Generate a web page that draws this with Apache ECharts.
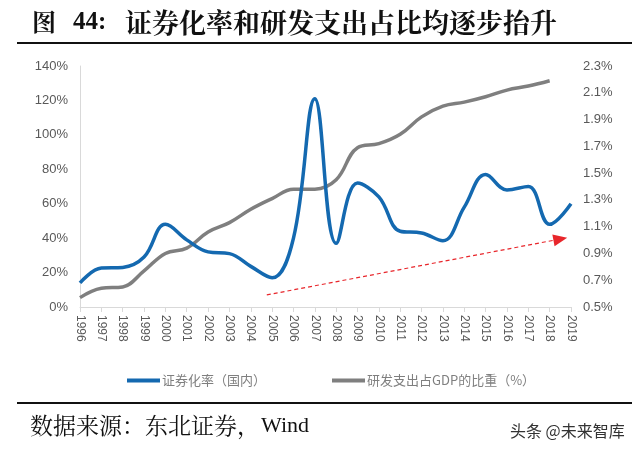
<!DOCTYPE html>
<html><head><meta charset="utf-8">
<script src="https://cdn.jsdelivr.net/npm/echarts@6/dist/echarts.min.js"></script>
<style>html,body{margin:0;padding:0;background:#fff;}#c{width:640px;height:455px;}</style>
</head><body><div id="c"></div>
<script>
const years = ['1996','1997','1998','1999','2000','2001','2002','2003','2004','2005','2006','2007','2008','2009','2010','2011','2012','2013','2014','2015','2016','2017','2018','2019'];
const securitization = [14,22.6,23,29,48,39,32,31,23.6,17,40,121,37,72,64,44,43,38.5,58,77,68,70,48,60];
const rdShare = [0.57,0.64,0.65,0.77,0.90,0.94,1.06,1.13,1.23,1.31,1.38,1.38,1.45,1.69,1.72,1.79,1.92,2.00,2.03,2.07,2.12,2.15,2.19,null];
const leftTicks = [0,20,40,60,80,100,120,140];
const rightTicks = [0.5,0.7,0.9,1.1,1.3,1.5,1.7,1.9,2.1,2.3];
// trend arrow in (year-position, left-axis %) units
const trendArrow = [[8.75,7],[22.5,39.5]];

const chart = echarts.init(document.getElementById('c'));
const axisLabelColor = '#595959';
const cjkSerif = '"Noto Serif CJK SC", "Noto Sans CJK SC", serif';
chart.setOption({
  animation:false,
  textStyle:{fontFamily:'Liberation Sans, Arial, sans-serif'},
  graphic:[
    {type:'text',left:32,top:10,style:{text:'图',font:'bold 24px '+cjkSerif,fill:'#111'}},
    {type:'text',left:73,top:10,style:{text:'44:',font:'bold 25px "Liberation Serif", serif',fill:'#111'}},
    {type:'text',left:125,top:9,style:{text:'证券化率和研发支出占比均逐步抬升',font:'bold 27px '+cjkSerif,fill:'#111'}},
    {type:'line',shape:{x1:17,y1:43,x2:632,y2:43},style:{stroke:'#111',lineWidth:2}},
    {type:'line',shape:{x1:17,y1:403,x2:632,y2:403},style:{stroke:'#111',lineWidth:2}},
    {type:'text',left:30,top:414,style:{text:'数据来源：东北证券，',font:'23px '+cjkSerif,fill:'#111'}},
    {type:'text',left:261,top:415,style:{text:'Wind',font:'22px "Liberation Serif", serif',fill:'#111'}},
    {type:'text',left:510,top:423,style:{text:'头条 @未来智库',font:'16px "Noto Sans CJK SC", sans-serif',fill:'#333'}}
  ],
  legend:{
    top:369, left:122, itemGap:66, itemWidth:33, itemHeight:4, icon:'rect',
    data:['证券化率（国内）','研发支出占GDP的比重（%）'],
    textStyle:{color:'#7f7f7f',fontSize:13,padding:[0,0,0,-3],fontFamily:'Noto Sans CJK SC, sans-serif'}
  },
  grid:{left:80,right:69,top:66,bottom:148},
  xAxis:[{
    type:'category', data:years, boundaryGap:false,
    axisLine:{lineStyle:{color:'#d9d9d9'}},
    axisTick:{lineStyle:{color:'#d9d9d9'},length:5},
    axisLabel:{rotate:-90,color:axisLabelColor,fontSize:12,margin:8}
  },{
    type:'value', min:0, max:years.length-1, show:false
  }],
  yAxis:[
    {type:'value',min:0,max:140,interval:20,
     axisLine:{show:true,lineStyle:{color:'#d9d9d9'}},axisTick:{show:false},splitLine:{show:false},
     axisLabel:{color:axisLabelColor,fontSize:13,margin:12,formatter:v=>leftTicks.includes(v)?v+'%':''}},
    {type:'value',min:0.5,max:2.3,interval:0.2,
     axisLine:{show:false},axisTick:{show:false},splitLine:{show:false},
     axisLabel:{color:axisLabelColor,fontSize:13,margin:12,formatter:v=>{const t=rightTicks.find(r=>Math.abs(r-v)<1e-6);return t!==undefined?t.toFixed(1)+'%':'';}}}
  ],
  series:[
    {name:'证券化率（国内）',type:'line',yAxisIndex:0,data:securitization,smooth:0.4,symbol:'none',
     lineStyle:{color:'#1469b0',width:3.5},itemStyle:{color:'#1469b0'}},
    {name:'研发支出占GDP的比重（%）',type:'line',yAxisIndex:1,data:rdShare,smooth:0.4,symbol:'none',
     lineStyle:{color:'#7f7f7f',width:3.5},itemStyle:{color:'#7f7f7f'},z:1},
    {name:'trend',type:'line',xAxisIndex:1,yAxisIndex:0,data:[],symbol:'none',
     markLine:{silent:true,symbol:['none','triangle'],symbolSize:[12,14],
       lineStyle:{color:'#e8262b',type:[4,3],width:1.2},label:{show:false},
       data:[[{coord:trendArrow[0]},{coord:trendArrow[1]}]]}}
  ]
});
</script></body></html>
